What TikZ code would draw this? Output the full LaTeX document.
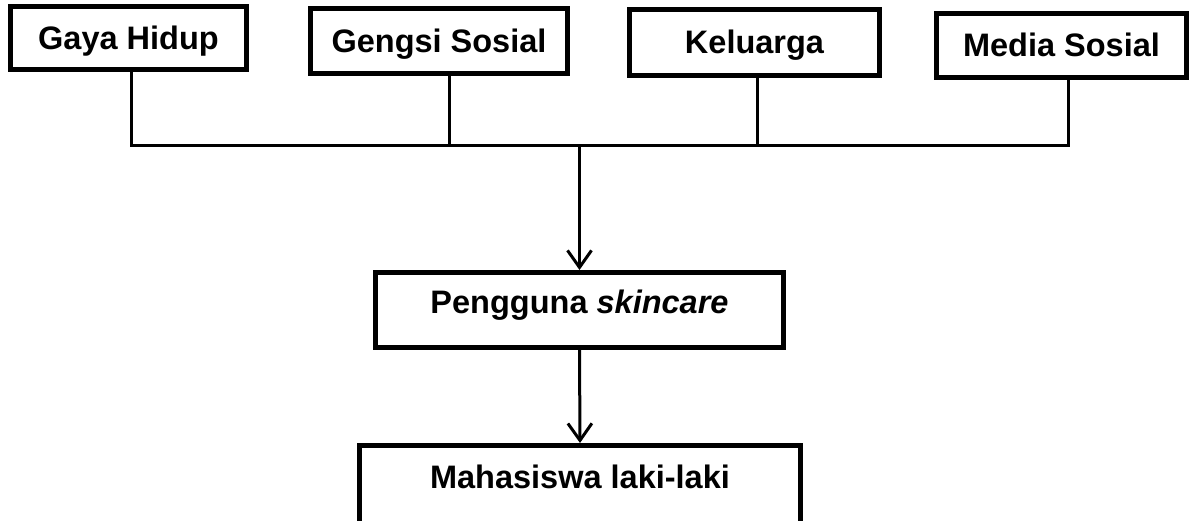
\documentclass[tikz,border=0pt]{standalone}
\usepackage{fontspec}
\setmainfont{Liberation Sans}
\usetikzlibrary{arrows.meta}
\begin{document}
\begin{tikzpicture}[x=1pt,y=-1pt,
  box/.style={draw,line width=5pt,inner sep=0pt,
    font=\bfseries\fontsize{32.5}{38}\selectfont,
    text height=23pt,text depth=0pt},
  conn/.style={line width=3pt},
  arr/.style={conn,-{Straight Barb[length=17pt,width=24pt]}}]
\useasboundingbox (0,0) rectangle (1192,521);
% top boxes
\node[box,minimum width=236pt,minimum height=63pt] (gaya) at (128.5,38) {Gaya Hidup};
\node[box,minimum width=257pt,minimum height=65pt] (gengsi) at (439,41) {Gengsi Sosial};
\node[box,minimum width=250pt,minimum height=66pt] (kel) at (754.5,42.5) {Keluarga};
\node[box,minimum width=250pt,minimum height=64pt] (media) at (1061.5,45.5) {Media Sosial};
% middle and bottom boxes
\node[box,minimum width=408pt,minimum height=75pt,text height=26pt,text depth=18pt] (peng) at (579.5,310) {Pengguna \textit{skincare}};
\node[box,minimum width=441pt,minimum height=87pt,text height=26pt,text depth=28pt] (maha) at (580,489) {Mahasiswa laki-laki};
% junctions
\coordinate (j1) at (131,146);
\coordinate (j2) at (449,146);
\coordinate (j3) at (757,146);
\coordinate (j4) at (1068,146);
\coordinate (hub) at (579.5,146);
\draw[conn] (gaya.south -| j1) -- (j1) -- (j4) -- (media.south -| j4);
\draw[conn] (gengsi.south -| j2) -- (j2);
\draw[conn] (kel.south -| j3) -- (j3);
\draw[arr] (hub) -- (peng.north);
\draw[arr] (peng.south) -- (maha.north);
\end{tikzpicture}
\end{document}
